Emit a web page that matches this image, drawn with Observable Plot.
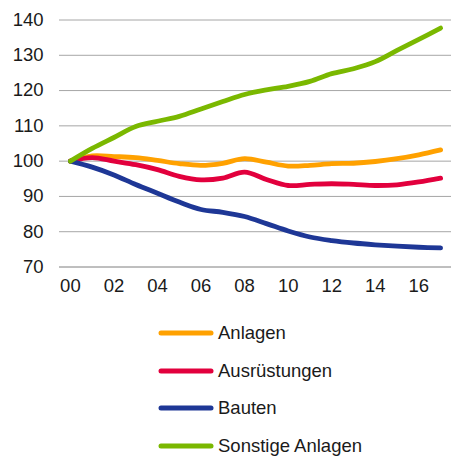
<!DOCTYPE html>
<html>
<head>
<meta charset="utf-8">
<script src="https://cdn.jsdelivr.net/npm/d3@7"></script>
<script src="https://cdn.jsdelivr.net/npm/@observablehq/plot@0.6"></script>
<style>
  html, body { margin: 0; padding: 0; background: #fff; }
  body { width: 451px; font-family: "Liberation Sans", Arial, sans-serif; color: #1a1a1a; }
  #chart svg { display: block; }
  #legend { padding-top: 9px; padding-left: 158px; }
  .row { height: 37.8px; display: flex; align-items: center; font-size: 18.5px; }
  .row svg { display: block; margin-right: 4px; }
</style>
</head>
<body>
<div id="chart"></div>
<div id="legend"></div>
<script>
const years = [2000,2001,2002,2003,2004,2005,2006,2007,2008,2009,2010,2011,2012,2013,2014,2015,2016,2017];
const seriesNames = ["Anlagen", "Ausrüstungen", "Bauten", "Sonstige Anlagen"];
const seriesColors = ["#FFA100", "#E2003D", "#1E3796", "#7AB800"];
const anlagen = [100,101.5,101.3,101.0,100.2,99.3,98.8,99.4,100.7,99.7,98.6,98.8,99.3,99.4,99.9,100.7,101.8,103.2];
const ausruestungen = [100,101.0,100.0,99.0,97.6,95.7,94.7,95.2,96.9,94.8,93.1,93.4,93.6,93.4,93.1,93.3,94.1,95.2];
const bauten = [100,98.3,96.1,93.4,90.9,88.4,86.3,85.5,84.3,82.3,80.2,78.5,77.5,76.8,76.3,75.9,75.6,75.4];
const sonstige = [100,103.6,106.7,109.8,111.3,112.7,114.8,116.9,118.9,120.2,121.2,122.6,124.8,126.2,128.2,131.4,134.5,137.7];
const yTicks = [70,80,90,100,110,120,130,140];
const xTicks = [2000,2002,2004,2006,2008,2010,2012,2014,2016];

const values = [anlagen, ausruestungen, bauten, sonstige];
const rows = [];
seriesNames.forEach((name, i) => {
  years.forEach((yr, j) => rows.push({series: name, year: yr, value: values[i][j]}));
});

const chart = Plot.plot({
  width: 451,
  height: 305,
  marginLeft: 59,
  marginRight: 0,
  marginTop: 19.5,
  marginBottom: 38.5,
  style: {fontFamily: "'Liberation Sans', Arial, sans-serif", fontSize: "18.5px", color: "#1a1a1a", background: "#fff"},
  x: {domain: [1999.5, 2017.5], label: null},
  y: {domain: [70, 140], label: null},
  color: {domain: seriesNames, range: seriesColors},
  marks: [
    Plot.ruleY(yTicks.filter(d => d > 70), {stroke: "#a6a6a6", strokeWidth: 1}),
    Plot.ruleY([70], {stroke: "#7f7f7f", strokeWidth: 1}),
    Plot.axisX({ticks: xTicks, tickFormat: d => String(d % 100).padStart(2, "0"), tickSize: 0, tickPadding: 12, label: null, fill: "#1a1a1a", fontSize: 18.5}),
    Plot.axisY({ticks: yTicks, tickSize: 0, tickPadding: 16, label: null, fill: "#1a1a1a", fontSize: 18.5}),
    Plot.line(rows, {x: "year", y: "value", z: "series", stroke: "series", strokeWidth: 4.8, curve: "catmull-rom", strokeLinecap: "round", strokeLinejoin: "round"})
  ]
});
document.getElementById("chart").appendChild(chart);

const legend = document.getElementById("legend");
seriesNames.forEach((name, i) => {
  const row = document.createElement("div");
  row.className = "row";
  row.innerHTML = `<svg width="56" height="10"><line x1="3" y1="5" x2="53" y2="5" stroke="${seriesColors[i]}" stroke-width="5" stroke-linecap="round"/></svg><span>${name}</span>`;
  legend.appendChild(row);
});
</script>
</body>
</html>
